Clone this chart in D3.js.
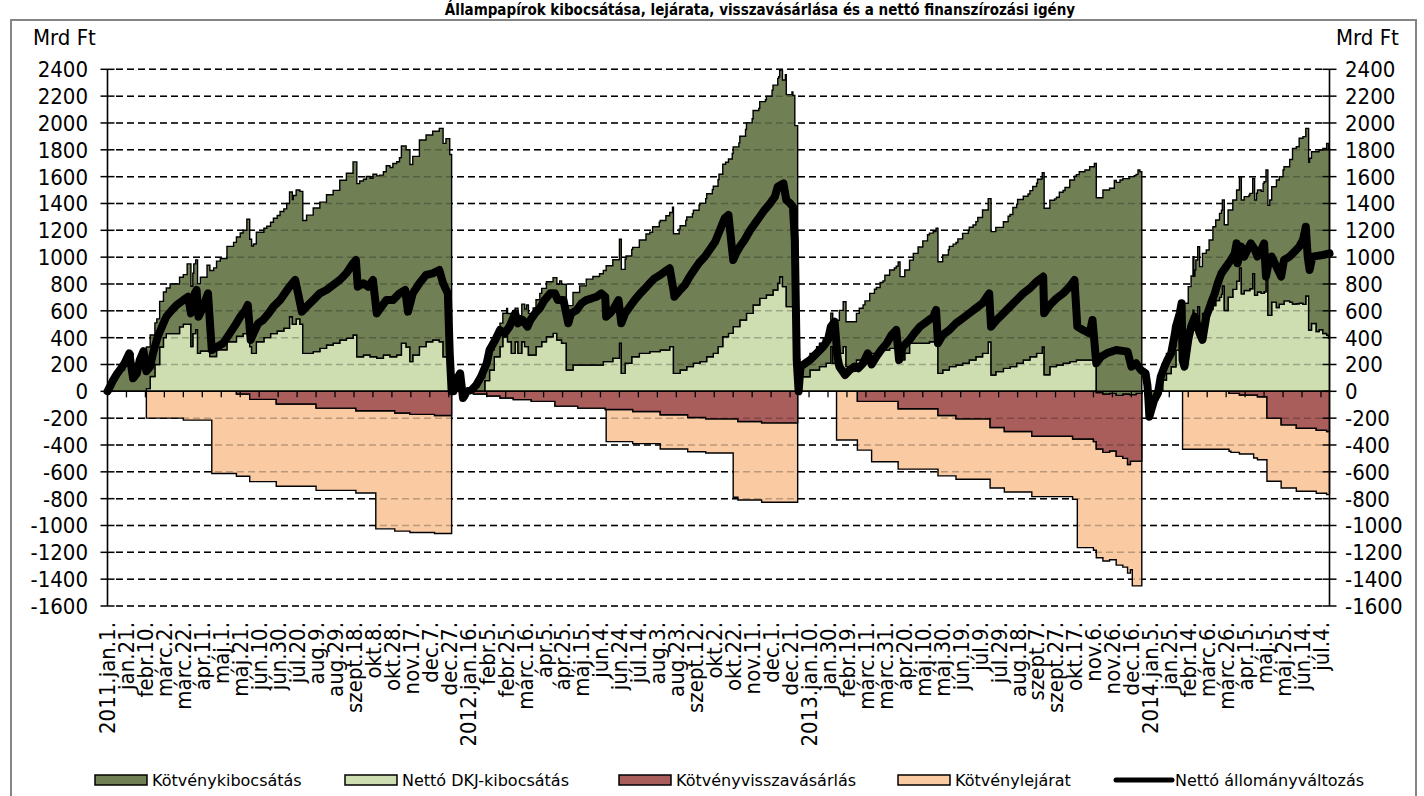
<!DOCTYPE html>
<html><head><meta charset="utf-8">
<script src="https://cdn.jsdelivr.net/npm/d3@7"></script>
<style>
html,body{margin:0;padding:0;background:#fff;}
svg{display:block;}
</style></head>
<body>
<svg id="chart" width="1424" height="796"></svg>
<script>
// ---------------- DATA (Mrd Ft, cumulative within each year) ----------------
const seriesNames = ["Kötvénykibocsátás","Nettó DKJ-kibocsátás","Kötvényvisszavásárlás","Kötvénylejárat","Nettó állományváltozás"];

const bondIssue = [
["2011-01-01",0],["2011-01-04",40],["2011-01-07",84],["2011-01-11",130],["2011-01-14",159],["2011-01-19",209],["2011-01-24",283],["2011-01-28",97],["2011-02-01",134],["2011-02-04",233],["2011-02-08",310],["2011-02-22",340],["2011-03-08",370],["2011-03-26",450],["2011-04-02",520],["2011-04-09",550],["2011-04-16",640],["2011-04-23",660],["2011-04-30",680],["2011-05-07",710],["2011-05-14",740],["2011-05-21",770],["2011-05-28",800],["2011-06-04",815],["2011-06-18",830],["2011-06-25",860],["2011-07-02",890],["2011-07-09",930],["2011-07-16",960],["2011-07-23",990],["2011-07-30",1030],["2011-08-06",1070],["2011-08-13",1090],["2011-08-20",1120],["2011-08-27",1140],["2011-09-03",1190],["2011-09-10",1230],["2011-09-17",1290],["2011-09-24",1310],["2011-10-01",1330],["2011-10-08",1360],["2011-10-15",1365],["2011-10-22",1410],["2011-10-29",1440],["2011-11-05",1470],["2011-11-19",1480],["2011-11-26",1540],["2011-12-10",1555],["2011-12-17",1590],["2011-12-24",1625],["2011-12-30",0],
["2012-01-01",0],["2012-01-04",84],["2012-01-08",134],["2012-01-11",-50],["2012-01-15",0],["2012-01-20",10],["2012-01-25",67],["2012-01-28",100],["2012-02-03",150],["2012-02-19",175],["2012-02-26",210],["2012-03-04",250],["2012-03-11",280],["2012-03-18",310],["2012-03-25",350],["2012-04-01",397],["2012-04-08",410],["2012-04-15",415],["2012-04-22",440],["2012-04-29",480],["2012-05-06",540],["2012-05-13",590],["2012-05-20",640],["2012-05-27",660],["2012-06-03",680],["2012-06-10",715],["2012-06-17",735],["2012-06-24",775],["2012-07-01",800],["2012-07-08",815],["2012-07-15",845],["2012-07-22",890],["2012-07-29",930],["2012-08-05",965],["2012-08-12",1000],["2012-08-19",1040],["2012-08-26",1075],["2012-09-02",1115],["2012-09-09",1140],["2012-09-16",1180],["2012-09-23",1215],["2012-09-30",1245],["2012-10-07",1285],["2012-10-14",1300],["2012-10-21",1340],["2012-10-28",1370],["2012-11-04",1420],["2012-11-11",1450],["2012-11-18",1466],["2012-11-25",1480],["2012-12-02",1527],["2012-12-09",1540],["2012-12-16",1580],["2012-12-23",1600],["2012-12-29",0],
["2013-01-01",60],["2013-01-04",100],["2013-01-11",124],["2013-01-18",174],["2013-01-25",211],["2013-02-01",250],["2013-02-08",320],["2013-02-15",335],["2013-03-01",348],["2013-03-04",386],["2013-03-10",416],["2013-03-15",447],["2013-03-20",478],["2013-03-26",515],["2013-03-31",557],["2013-04-05",584],["2013-04-10",599],["2013-04-14",620],["2013-04-30",670],["2013-05-05",718],["2013-05-10",763],["2013-05-15",809],["2013-05-21",820],["2013-05-24",832],["2013-05-31",857],["2013-06-06",896],["2013-06-11",913],["2013-06-16",940],["2013-06-21",968],["2013-06-27",990],["2013-07-02",1007],["2013-07-07",1037],["2013-07-12",1068],["2013-07-26",1075],["2013-08-03",1093],["2013-08-08",1134],["2013-08-13",1186],["2013-08-18",1221],["2013-08-29",1238],["2013-09-03",1268],["2013-09-08",1297],["2013-09-12",1300],["2013-09-15",1240],["2013-09-26",1250],["2013-10-01",1288],["2013-10-07",1310],["2013-10-12",1354],["2013-10-17",1382],["2013-10-22",1404],["2013-10-28",1416],["2013-11-02",1441],["2013-11-07",1453],["2013-11-16",1520],["2013-11-23",1528],["2013-11-28",1587],["2013-12-04",1605],["2013-12-14",1625],["2013-12-19",1632],["2013-12-23",1664],["2013-12-25",1652],["2013-12-27",0],
["2014-01-01",0],["2014-01-02",60],["2014-01-03",-65],["2014-01-04",-189],["2014-01-06",-139],["2014-01-09",-65],["2014-01-13",-15],["2014-01-15",109],["2014-01-18",125],["2014-01-22",150],["2014-02-08",200],["2014-02-14",320],["2014-02-17",400],["2014-02-21",447],["2014-03-05",463],["2014-03-08",518],["2014-03-12",587],["2014-03-15",600],["2014-03-19",626],["2014-03-22",640],["2014-03-28",650],["2014-04-02",666],["2014-04-06",680],["2014-04-11",700],["2014-04-19",710],["2014-04-27",760],["2014-05-04",820],["2014-05-11",860],["2014-05-18",950],["2014-05-25",1000],["2014-06-01",1064],["2014-06-04",1160],["2014-06-08",1170],["2014-06-11",1230],["2014-06-15",1250],["2014-06-22",1280],["2014-06-29",1340],["2014-07-06",1380],["2014-07-10",1430],["2014-07-12",1416]
];

const netDkj = [
["2011-01-01",0],["2011-02-11",20],["2011-02-15",110],["2011-02-20",200],["2011-02-25",330],["2011-03-01",400],["2011-03-04",430],["2011-03-18",480],["2011-03-22",500],["2011-03-30",333],["2011-04-01",430],["2011-04-04",460],["2011-04-06",283],["2011-04-09",300],["2011-04-19",260],["2011-04-26",310],["2011-05-07",370],["2011-05-17",410],["2011-05-24",430],["2011-05-28",482],["2011-05-31",333],["2011-06-02",283],["2011-06-07",370],["2011-06-15",400],["2011-06-22",430],["2011-06-29",450],["2011-07-06",470],["2011-07-12",556],["2011-07-15",500],["2011-07-19",540],["2011-07-23",500],["2011-07-26",283],["2011-08-06",296],["2011-08-13",320],["2011-08-20",345],["2011-08-27",358],["2011-09-03",383],["2011-09-10",395],["2011-09-17",420],["2011-09-21",258],["2011-09-28",271],["2011-10-05",258],["2011-10-12",246],["2011-10-19",271],["2011-10-26",258],["2011-11-02",271],["2011-11-07",358],["2011-11-12",330],["2011-11-16",221],["2011-11-19",271],["2011-11-26",333],["2011-12-03",370],["2011-12-10",383],["2011-12-17",370],["2011-12-21",258],["2011-12-28",140],["2011-12-30",0],
["2012-01-01",0],["2012-02-03",80],["2012-02-08",159],["2012-02-13",258],["2012-02-19",333],["2012-02-22",407],["2012-02-27",370],["2012-03-02",283],["2012-03-06",370],["2012-03-09",283],["2012-03-13",370],["2012-03-16",333],["2012-03-20",271],["2012-03-28",333],["2012-04-03",370],["2012-04-08",407],["2012-04-15",432],["2012-04-19",383],["2012-04-24",358],["2012-04-29",159],["2012-05-06",196],["2012-06-07",221],["2012-06-17",246],["2012-06-24",358],["2012-06-26",134],["2012-06-30",209],["2012-07-07",258],["2012-07-15",283],["2012-07-26",296],["2012-08-06",308],["2012-08-16",333],["2012-08-20",134],["2012-08-27",159],["2012-09-03",184],["2012-09-10",209],["2012-09-17",221],["2012-09-24",258],["2012-10-01",283],["2012-10-06",333],["2012-10-11",407],["2012-10-17",432],["2012-10-22",482],["2012-10-29",531],["2012-11-05",581],["2012-11-12",643],["2012-11-19",693],["2012-11-26",718],["2012-12-03",755],["2012-12-08",805],["2012-12-10",854],["2012-12-13",780],["2012-12-17",631],["2012-12-24",606],["2012-12-26",380],["2012-12-29",0],
["2013-01-01",109],["2013-01-11",159],["2013-01-21",184],["2013-01-28",209],["2013-02-02",333],["2013-02-04",209],["2013-02-11",283],["2013-02-15",333],["2013-02-18",184],["2013-03-01",233],["2013-03-08",258],["2013-03-15",283],["2013-03-22",296],["2013-03-29",308],["2013-04-05",320],["2013-04-12",333],["2013-04-14",345],["2013-04-16",235],["2013-04-21",284],["2013-04-26",358],["2013-05-17",370],["2013-05-24",383],["2013-05-26",134],["2013-05-31",159],["2013-06-07",184],["2013-06-14",196],["2013-06-21",209],["2013-06-28",233],["2013-07-05",258],["2013-07-12",283],["2013-07-18",368],["2013-07-21",122],["2013-07-26",147],["2013-08-03",171],["2013-08-10",184],["2013-08-17",209],["2013-08-24",233],["2013-08-31",258],["2013-09-07",283],["2013-09-13",330],["2013-09-15",124],["2013-09-21",184],["2013-09-28",196],["2013-10-05",209],["2013-10-12",221],["2013-10-19",233],["2013-11-07",246],["2013-11-09",-10],["2013-11-16",-20],["2013-11-23",-15],["2013-11-30",-30],["2013-12-07",-20],["2013-12-14",-25],["2013-12-21",-15],["2013-12-27",0],
["2014-01-01",0],["2014-01-18",84],["2014-01-22",133],["2014-01-27",183],["2014-02-01",307],["2014-02-05",382],["2014-02-08",456],["2014-02-14",460],["2014-02-19",604],["2014-02-20",457],["2014-02-22",532],["2014-02-24",631],["2014-02-26",482],["2014-03-01",581],["2014-03-05",590],["2014-03-08",610],["2014-03-12",640],["2014-03-15",677],["2014-03-19",700],["2014-03-21",724],["2014-03-22",786],["2014-03-24",602],["2014-03-28",701],["2014-04-02",760],["2014-04-06",820],["2014-04-09",920],["2014-04-11",726],["2014-04-14",751],["2014-04-20",765],["2014-04-23",877],["2014-04-25",716],["2014-04-28",740],["2014-05-02",730],["2014-05-05",742],["2014-05-07",829],["2014-05-09",566],["2014-05-13",665],["2014-05-18",625],["2014-05-21",650],["2014-05-23",649],["2014-05-26",674],["2014-06-01",664],["2014-06-04",651],["2014-06-08",653],["2014-06-11",656],["2014-06-15",648],["2014-06-18",710],["2014-06-21",457],["2014-06-24",506],["2014-06-29",446],["2014-07-02",459],["2014-07-06",431],["2014-07-10",418],["2014-07-12",395]
];

const buyback = [
["2011-01-01",0],["2011-05-17",-20],["2011-05-31",-60],["2011-06-28",-95],["2011-08-09",-125],["2011-09-20",-145],["2011-10-31",-162],["2011-11-16",-172],["2011-12-12",-180],["2011-12-30",0],
["2012-01-01",0],["2012-01-22",-20],["2012-02-05",-35],["2012-02-19",-50],["2012-03-04",-62],["2012-03-23",-75],["2012-04-17",-110],["2012-05-11",-125],["2012-06-09",-135],["2012-07-08",-150],["2012-08-06",-175],["2012-09-04",-195],["2012-09-23",-205],["2012-10-27",-225],["2012-11-21",-235],["2012-12-29",0],
["2013-01-01",0],["2013-03-02",-75],["2013-04-14",-130],["2013-05-26",-180],["2013-06-14",-205],["2013-07-20",-270],["2013-08-04",-300],["2013-09-02",-335],["2013-10-15",-355],["2013-11-06",-375],["2013-11-09",-430],["2013-11-16",-455],["2013-11-23",-445],["2013-11-30",-485],["2013-12-07",-500],["2013-12-12",-545],["2013-12-15",-520],["2013-12-27",0],
["2014-01-01",0],["2014-03-29",-15],["2014-04-09",-27],["2014-04-28",-40],["2014-05-08",-200],["2014-05-23",-250],["2014-06-08",-275],["2014-06-29",-290],["2014-07-10",-300]
];

const maturity = [
["2011-01-01",0],["2011-02-11",-200],["2011-03-22",-215],["2011-04-21",-613],["2011-10-11",-880],["2011-12-30",0],
["2012-01-01",0],["2012-06-10",-240],["2012-08-06",-255],["2012-10-22",-585],["2012-11-21",-592],["2012-12-29",0],
["2013-01-01",0],["2013-02-08",-363],["2013-03-17",-450],["2013-10-20",-810],["2013-12-17",-930],["2013-12-27",0],
["2014-01-01",0],["2014-02-08",-432],["2014-03-31",-440],["2014-04-24",-470]
];

const netChange = [
["2011-01-01",0],["2011-01-04",40],["2011-01-07",84],["2011-01-11",130],["2011-01-14",159],["2011-01-19",209],["2011-01-24",283],["2011-01-28",97],["2011-02-01",134],["2011-02-04",233],["2011-02-08",300],["2011-02-11",150],["2011-02-15",184],["2011-02-18",283],["2011-02-23",407],["2011-03-01",507],["2011-03-04",556],["2011-03-10",606],["2011-03-15",643],["2011-03-22",680],["2011-03-27",705],["2011-03-30",581],["2011-04-03",730],["2011-04-05",755],["2011-04-07",556],["2011-04-12",630],["2011-04-17",730],["2011-04-21",308],["2011-05-03",358],["2011-05-10",432],["2011-05-17",507],["2011-05-21",556],["2011-05-26",600],["2011-05-29",643],["2011-06-01",383],["2011-06-04",432],["2011-06-09",507],["2011-06-14",531],["2011-06-20",581],["2011-06-25",631],["2011-07-02",680],["2011-07-07",730],["2011-07-12",780],["2011-07-18",830],["2011-07-21",730],["2011-07-25",594],["2011-07-30",631],["2011-08-06",680],["2011-08-13",730],["2011-08-20",755],["2011-08-27",792],["2011-09-03",830],["2011-09-10",880],["2011-09-17",954],["2011-09-20",979],["2011-09-22",780],["2011-09-28",805],["2011-10-03",780],["2011-10-08",830],["2011-10-12",581],["2011-10-22",680],["2011-10-29",680],["2011-11-05",730],["2011-11-11",755],["2011-11-14",594],["2011-11-19",730],["2011-11-26",805],["2011-12-03",867],["2011-12-10",879],["2011-12-17",904],["2011-12-21",805],["2011-12-26",730],["2011-12-28",283],["2011-12-30",0],
["2012-01-01",0],["2012-01-04",84],["2012-01-08",134],["2012-01-11",-50],["2012-01-15",0],["2012-01-20",10],["2012-01-25",47],["2012-01-30",109],["2012-02-05",209],["2012-02-08",308],["2012-02-14",383],["2012-02-19",457],["2012-02-24",432],["2012-02-29",482],["2012-03-06",581],["2012-03-09",507],["2012-03-14",531],["2012-03-19",482],["2012-03-22",531],["2012-03-27",581],["2012-04-01",619],["2012-04-06",680],["2012-04-12",730],["2012-04-17",730],["2012-04-20",680],["2012-04-26",680],["2012-05-01",507],["2012-05-04",581],["2012-05-10",606],["2012-05-15",656],["2012-05-20",680],["2012-05-26",693],["2012-05-31",705],["2012-06-05",730],["2012-06-09",705],["2012-06-10",556],["2012-06-14",581],["2012-06-17",606],["2012-06-23",680],["2012-06-26",507],["2012-06-30",581],["2012-07-05",631],["2012-07-10",680],["2012-07-16",730],["2012-07-21",767],["2012-07-26",805],["2012-07-31",842],["2012-08-06",867],["2012-08-11",892],["2012-08-16",917],["2012-08-20",755],["2012-08-21",705],["2012-08-27",755],["2012-09-01",792],["2012-09-06",854],["2012-09-12",917],["2012-09-17",966],["2012-09-22",1003],["2012-09-27",1053],["2012-10-03",1115],["2012-10-08",1202],["2012-10-13",1289],["2012-10-17",1314],["2012-10-22",979],["2012-10-25",1028],["2012-10-29",1078],["2012-11-03",1128],["2012-11-09",1202],["2012-11-14",1252],["2012-11-19",1301],["2012-11-24",1351],["2012-11-30",1401],["2012-12-05",1451],["2012-12-08",1525],["2012-12-14",1550],["2012-12-17",1426],["2012-12-21",1401],["2012-12-24",1376],["2012-12-26",1128],["2012-12-28",233],["2012-12-30",0],
["2013-01-01",184],["2013-01-11",233],["2013-01-18",283],["2013-01-25",333],["2013-01-30",383],["2013-02-02",482],["2013-02-06",519],["2013-02-09",258],["2013-02-11",184],["2013-02-17",122],["2013-02-22",159],["2013-02-27",184],["2013-03-03",171],["2013-03-08",209],["2013-03-13",283],["2013-03-17",200],["2013-03-22",258],["2013-03-27",308],["2013-04-02",358],["2013-04-07",420],["2013-04-12",457],["2013-04-15",233],["2013-04-19",333],["2013-04-26",383],["2013-05-01",432],["2013-05-07",482],["2013-05-14",519],["2013-05-21",556],["2013-05-24",606],["2013-05-26",358],["2013-05-31",420],["2013-06-07",457],["2013-06-14",507],["2013-06-21",544],["2013-06-28",581],["2013-07-05",619],["2013-07-12",656],["2013-07-19",730],["2013-07-21",482],["2013-07-27",532],["2013-08-03",581],["2013-08-10",631],["2013-08-17",681],["2013-08-24",730],["2013-08-31",768],["2013-09-07",817],["2013-09-14",855],["2013-09-15",581],["2013-09-21",643],["2013-09-28",693],["2013-10-05",730],["2013-10-12",780],["2013-10-17",830],["2013-10-20",482],["2013-10-26",457],["2013-11-02",432],["2013-11-05",532],["2013-11-09",209],["2013-11-14",258],["2013-11-20",283],["2013-11-30",308],["2013-12-12",296],["2013-12-16",184],["2013-12-21",209],["2013-12-26",159],["2013-12-31",134],
["2014-01-02",40],["2014-01-03",-65],["2014-01-04",-189],["2014-01-06",-139],["2014-01-09",-65],["2014-01-13",-15],["2014-01-16",109],["2014-01-20",184],["2014-01-23",233],["2014-01-27",283],["2014-01-31",432],["2014-02-01",482],["2014-02-05",581],["2014-02-07",656],["2014-02-08",233],["2014-02-10",184],["2014-02-14",383],["2014-02-17",482],["2014-02-21",556],["2014-02-26",432],["2014-03-01",383],["2014-03-05",556],["2014-03-10",656],["2014-03-14",730],["2014-03-17",805],["2014-03-21",879],["2014-03-26",929],["2014-03-31",979],["2014-04-04",1028],["2014-04-06",1103],["2014-04-07",954],["2014-04-11",1078],["2014-04-14",1004],["2014-04-21",1103],["2014-04-25",1060],["2014-04-28",1004],["2014-05-02",1053],["2014-05-05",1103],["2014-05-07",855],["2014-05-09",929],["2014-05-13",1004],["2014-05-23",855],["2014-05-26",979],["2014-06-01",1004],["2014-06-06",1041],["2014-06-11",1078],["2014-06-15",1128],["2014-06-18",1227],["2014-06-20",1004],["2014-06-22",904],["2014-06-25",1004],["2014-07-06",1016],["2014-07-13",1028]
];

const yTickValues = [-1600,-1400,-1200,-1000,-800,-600,-400,-200,0,200,400,600,800,1000,1200,1400,1600,1800,2000,2200,2400];

const xTickLabels = ["2011.jan.1.","jan.21.","febr.10.","márc.2.","márc.22.","ápr.11.","máj.1.","máj.21.","jún.10.","jún.30.","júl.20.","aug.9.","aug.29.","szept.18.","okt.8.","okt.28.","nov.17.","dec.7.","dec.27.",
"2012.jan.16.","febr.5.","febr.25.","márc.16.","ápr.5.","ápr.25.","máj.15.","jún.4.","jún.24.","júl.14.","aug.3.","aug.23.","szept.12.","okt.2.","okt.22.","nov.11.","dec.1.","dec.21.",
"2013.jan.10.","jan.30.","febr.19.","márc.11.","márc.31.","ápr.20.","máj.10.","máj.30.","jún.19.","júl.9.","júl.29.","aug.18.","szept.7.","szept.27.","okt.17.","nov.6.","nov.26.","dec.16.",
"2014.jan.5.","jan.25.","febr.14.","márc.6.","márc.26.","ápr.15.","máj.5.","máj.25.","jún.14.","júl.4."];

const titleText = "Állampapírok kibocsátása, lejárata, visszavásárlása és a nettó finanszírozási igény";
const unitLabel = "Mrd Ft";
const colors = {bond:"#718054", dkj:"#cfdeb0", buyback:"#aa5e5c", maturity:"#facba2", net:"#000000"};

// ---------------- CHART ----------------
const parse = d3.utcParse("%Y-%m-%d");
const svg = d3.select("#chart");
const axisFont = "'DejaVu Sans Condensed','DejaVu Sans',sans-serif";
const legendFont = "'DejaVu Sans',sans-serif";

const startDate = parse("2011-01-01"), endDate = parse("2014-07-13");
const x = d3.scaleUtc().domain([startDate, endDate]).range([107.5, 1329.5]);
const y = d3.scaleLinear().domain([-1600, 2400]).range([606, 69.3]);

// union of change dates (step data: value holds until next change)
const dateSet = new Set();
[bondIssue, netDkj, buyback, maturity].forEach(a => a.forEach(d => dateSet.add(d[0])));
dateSet.add("2014-07-13");
const dates = Array.from(dateSet).sort();
function hold(arr){
  const out = []; let j = 0, cur = 0;
  for (const d of dates){ while (j < arr.length && arr[j][0] <= d){ cur = arr[j][1]; j++; } out.push(cur); }
  return out;
}
const vb = hold(bondIssue), vd = hold(netDkj), vbb = hold(buyback), vm = hold(maturity);
const table = dates.map((d,i) => ({date: parse(d), bond: vb[i], dkj: vd[i], buyback: vbb[i], maturity: vm[i]}));

// frame
svg.append("rect").attr("x",11).attr("y",20).attr("width",1405).attr("height",800)
  .attr("fill","none").attr("stroke","#858585").attr("stroke-width",2);

// title (fits in the strip above the frame)
svg.append("text").attr("x",760).attr("y",15).attr("text-anchor","middle").attr("font-family",axisFont).attr("font-weight","bold")
  .attr("font-size",15).attr("fill","#000").text(titleText);

const gridVals = yTickValues.filter(v => v !== 0);
function drawGrid(opacity){
  svg.append("g").selectAll("line").data(gridVals).join("line")
    .attr("x1",116).attr("x2",1323).attr("y1",d=>y(d)).attr("y2",d=>y(d))
    .attr("stroke","#000").attr("stroke-width",1.5).attr("stroke-dasharray","7,4")
    .attr("stroke-opacity",opacity);
}
drawGrid(1);

const areaStyle = (sel, fill) => sel.attr("fill",fill).attr("stroke","#000").attr("stroke-width",1.4).attr("stroke-linejoin","miter");
const mk = (y0f, y1f) => d3.area().x(d=>x(d.date)).y0(d=>y(y0f(d))).y1(d=>y(y1f(d))).curve(d3.curveStepAfter);

svg.append("path").datum(table).attr("d", mk(d=>d.buyback, d=>d.buyback + d.maturity)).call(areaStyle, colors.maturity);
svg.append("path").datum(table).attr("d", mk(d=>0, d=>d.buyback)).call(areaStyle, colors.buyback);
svg.append("path").datum(table).attr("d", mk(d=>0, d=>d.dkj)).call(areaStyle, colors.dkj);
svg.append("path").datum(table).attr("d", mk(d=>d.dkj, d=>d.dkj + d.bond)).call(areaStyle, colors.bond);

drawGrid(0.25);

// axes
const y0px = y(0);
svg.append("line").attr("x1",107.5).attr("x2",1329.5).attr("y1",y0px).attr("y2",y0px).attr("stroke","#000").attr("stroke-width",1.6);
[107.5, 1329.5].forEach(ax => {
  svg.append("line").attr("x1",ax).attr("x2",ax).attr("y1",y(2400)).attr("y2",y(-1600)).attr("stroke","#000").attr("stroke-width",1.6);
  svg.append("g").selectAll("line").data(yTickValues).join("line")
    .attr("x1",ax-7).attr("x2",ax+7).attr("y1",d=>y(d)).attr("y2",d=>y(d)).attr("stroke","#000").attr("stroke-width",1.5);
});
svg.append("g").selectAll("text").data(yTickValues).join("text")
  .attr("x",88).attr("y",d=>y(d)).attr("dy","0.36em").attr("text-anchor","end")
  .attr("font-family",axisFont).attr("font-size",22).attr("fill","#000").text(d=>d);
svg.append("g").selectAll("text").data(yTickValues).join("text")
  .attr("x",1345).attr("y",d=>y(d)).attr("dy","0.36em").attr("text-anchor","start")
  .attr("font-family",axisFont).attr("font-size",22).attr("fill","#000").text(d=>d);
svg.append("text").attr("x",33).attr("y",45).attr("font-family",axisFont).attr("font-size",22).text(unitLabel);
svg.append("text").attr("x",1336).attr("y",45).attr("font-family",axisFont).attr("font-size",22).text(unitLabel);

// x ticks & labels (every 20 days)
const tickDates = xTickLabels.map((l,i) => d3.utcDay.offset(startDate, 20*i));
svg.append("g").selectAll("line").data(tickDates.slice(1)).join("line")
  .attr("x1",d=>x(d)).attr("x2",d=>x(d)).attr("y1",y0px).attr("y2",y0px+6).attr("stroke","#000").attr("stroke-width",1.3);
svg.append("g").selectAll("text").data(xTickLabels).join("text")
  .attr("transform",(d,i)=>`translate(${x(tickDates[i])},622) rotate(-90)`)
  .attr("dy","0.36em").attr("text-anchor","end")
  .attr("font-family",axisFont).attr("font-size",22).attr("fill","#000").text(d=>d);

// net line
svg.append("path").datum(netChange)
  .attr("d", d3.line().x(d=>x(parse(d[0]))).y(d=>y(d[1])))
  .attr("fill","none").attr("stroke",colors.net).attr("stroke-width",8)
  .attr("stroke-linejoin","round").attr("stroke-linecap","round");

// legend
const legendItems = [
  {name: seriesNames[0], type:"rect", fill: colors.bond, x: 95},
  {name: seriesNames[1], type:"rect", fill: colors.dkj, x: 345},
  {name: seriesNames[2], type:"rect", fill: colors.buyback, x: 619},
  {name: seriesNames[3], type:"rect", fill: colors.maturity, x: 898},
  {name: seriesNames[4], type:"line", fill: colors.net, x: 1116}
];
const lg = svg.append("g");
legendItems.forEach(it => {
  if (it.type === "rect") {
    lg.append("rect").attr("x",it.x).attr("y",775).attr("width",52).attr("height",10)
      .attr("fill",it.fill).attr("stroke","#000").attr("stroke-width",1.5);
  } else {
    lg.append("line").attr("x1",it.x).attr("x2",it.x+56).attr("y1",780).attr("y2",780)
      .attr("stroke","#000").attr("stroke-width",5).attr("stroke-linecap","round");
  }
  lg.append("text").attr("x", it.x + (it.type==="rect"?57:59)).attr("y",780).attr("dy","0.36em")
    .attr("font-family",legendFont).attr("font-size",16).attr("fill","#000").text(it.name);
});
</script>
</body></html>
